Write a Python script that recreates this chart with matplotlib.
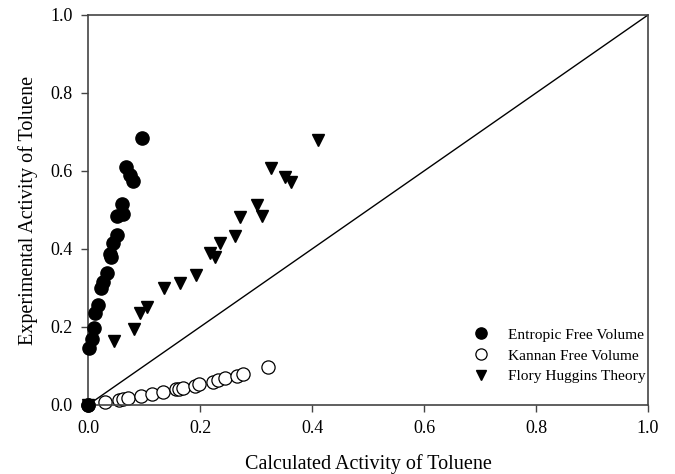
import matplotlib
matplotlib.use("Agg")
import matplotlib.pyplot as plt

plt.rcParams['font.family'] = ['Liberation Serif', 'DejaVu Serif']

# Entropic free volume model
efv_calc = [0.0, 0.001, 0.007, 0.011, 0.0125, 0.017, 0.023, 0.027, 0.034, 0.039, 0.041,
            0.044, 0.051, 0.051, 0.063, 0.061, 0.080, 0.075, 0.068, 0.096]
efv_exp = [0.0, 0.145, 0.168, 0.197, 0.237, 0.256, 0.299, 0.316, 0.338, 0.388, 0.380,
           0.415, 0.436, 0.485, 0.490, 0.515, 0.575, 0.590, 0.611, 0.684]

# Kannan free volume model
kfv_calc = [0.0, 0.030, 0.056, 0.062, 0.071, 0.094, 0.114, 0.1345, 0.157, 0.163, 0.169,
            0.191, 0.199, 0.223, 0.233, 0.245, 0.2655, 0.277, 0.322]
kfv_exp = [0.0, 0.0085, 0.013, 0.0145, 0.017, 0.023, 0.028, 0.034, 0.040, 0.041, 0.043,
           0.049, 0.053, 0.060, 0.064, 0.068, 0.074, 0.0795, 0.097]

# Flory-Huggins theory
fh_calc = [0.0, 0.046, 0.083, 0.092, 0.105, 0.136, 0.164, 0.193, 0.218, 0.227, 0.236,
           0.2625, 0.271, 0.310, 0.301, 0.3625, 0.352, 0.326, 0.411]
fh_exp = [0.0, 0.165, 0.194, 0.235, 0.252, 0.299, 0.312, 0.333, 0.389, 0.379, 0.415,
          0.433, 0.483, 0.485, 0.513, 0.573, 0.584, 0.607, 0.679]

fig = plt.figure(figsize=(6.75, 4.74), dpi=100)
ax = fig.add_axes([0.1304, 0.1456, 0.8296, 0.8228])

# parity line
ax.plot([0, 1], [0, 1], color='black', lw=1.0, zorder=1)

ax.plot(efv_calc, efv_exp, 'o', color='black', markersize=9.5, lw=0,
        label='Entropic Free Volume', zorder=3, clip_on=False)
ax.plot(kfv_calc, kfv_exp, 'o', markerfacecolor='white', markeredgecolor='black',
        markeredgewidth=0.9, markersize=9.5, lw=0, label='Kannan Free Volume',
        zorder=2, clip_on=False)
ax.plot(fh_calc, fh_exp, 'v', color='black', markersize=9, lw=0,
        label='Flory Huggins Theory', zorder=4, clip_on=False)

ax.set_xlim(0, 1)
ax.set_ylim(0, 1)
ticks = [0.0, 0.2, 0.4, 0.6, 0.8, 1.0]
ax.set_xticks(ticks)
ax.set_yticks(ticks)
ax.set_xticklabels([f'{t:.1f}' for t in ticks])
ax.set_yticklabels([f'{t:.1f}' for t in ticks])
ax.tick_params(direction='out', length=5, width=1, color='#444444',
               labelsize=13, pad=6)
for s in ax.spines.values():
    s.set_color('#444444')
    s.set_linewidth(1.2)

ax.set_xlabel('Calculated Activity of Toluene', fontsize=14.5, labelpad=12)
ax.set_ylabel('Experimental Activity of Toluene', fontsize=14.5, labelpad=9)

ax.legend(loc='lower right', bbox_to_anchor=(1.02, 0.02), frameon=False,
          fontsize=11.1, handletextpad=0.75, labelspacing=0.45, markerscale=0.85)

fig.savefig('out.png', dpi=100)
